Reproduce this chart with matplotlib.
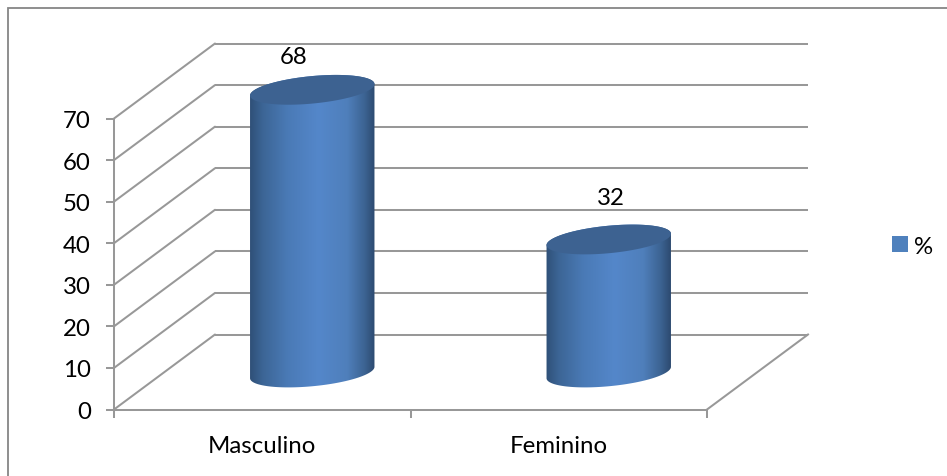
import numpy as np
import matplotlib
matplotlib.use("Agg")
import matplotlib.pyplot as plt
from matplotlib.colors import LinearSegmentedColormap
from matplotlib.patches import Patch, PathPatch, Rectangle
from matplotlib.path import Path
from matplotlib.transforms import Affine2D

plt.rcParams['font.family'] = ['Lato', 'DejaVu Sans']

categories = ["Masculino", "Feminino"]
values = [68, 32]
series_name = "%"
y_ticks = [0, 10, 20, 30, 40, 50, 60, 70]

W, H = 947, 477
GRAY = "#989898"
LW = 1.45
FS = 17.3
DEPTH_X, DEPTH_Y = 101, 75          # depth of the 3-D box, px
BAR_DX, BAR_DY = 50, 37             # bar centre within the depth, px
A, B, TILT = 62.5, 13.7, np.radians(5.5)  # ellipse of the cylinder, px
LABEL_OFFSETS = [(-19, 33), (2, 42)]      # label position from bar top, px

fig = plt.figure(figsize=(W / 100, H / 100), dpi=100, facecolor="white")
ax = fig.add_axes([114 / W, 1 - 410.5 / H, (707 - 114) / W, (410.5 - 119.5) / H])
ax.set_xlim(0, 2)
ax.set_ylim(0, 70)
ax.patch.set_visible(False)

# chart frame
fig.add_artist(Rectangle((7.5 / W, -0.1), 1.1, 1.1 - 8.5 / H,
                         transform=fig.transFigure, fill=False,
                         edgecolor="#868686", linewidth=1.3))

# axes
for s in ("top", "right"):
    ax.spines[s].set_visible(False)
for s in ("left", "bottom"):
    ax.spines[s].set_color(GRAY)
    ax.spines[s].set_linewidth(LW)
ax.set_yticks(y_ticks)
ax.set_xticks([0, 1, 2])
ax.set_xticks([0.5, 1.5], minor=True)
ax.set_xticklabels([])
ax.set_xticklabels(categories, minor=True, fontsize=FS, color="black")
ax.tick_params(axis="y", length=5.8, width=LW, color=GRAY, labelsize=FS,
               pad=11, labelcolor="black")
for lab in ax.get_yticklabels():
    lab.set_verticalalignment("center_baseline")
ax.tick_params(axis="x", which="major", length=5.8, width=LW, color=GRAY)
ax.tick_params(axis="x", which="minor", length=0, pad=18.5)

# 3-D walls and floor
depth = ax.transData + Affine2D().translate(DEPTH_X, DEPTH_Y)
for v in y_ticks:
    p0 = ax.transData.transform((0, v))
    xs = [p0[0], p0[0] + DEPTH_X]
    ys = [p0[1], p0[1] + DEPTH_Y]
    ax.plot(xs, ys, color=GRAY, lw=LW, transform=None, clip_on=False,
            solid_capstyle="round", zorder=1)
    ax.plot([0, 2], [v, v], color=GRAY, lw=LW, transform=depth, clip_on=False,
            solid_capstyle="butt", zorder=1)
p1 = ax.transData.transform((2, 0))
ax.plot([p1[0], p1[0] + DEPTH_X], [p1[1], p1[1] + DEPTH_Y], color=GRAY, lw=LW,
        transform=None, clip_on=False, zorder=1)

cmap = LinearSegmentedColormap.from_list("cyl", [
    (0.00, "#2F5078"), (0.10, "#3C6595"), (0.30, "#4A7AB6"),
    (0.55, "#5487CA"), (0.78, "#4F7FBB"), (0.92, "#3C6392"), (1.00, "#2D4A70")])


def ellipse_pts(cx, cy, t):
    ex, ey = A * np.cos(t), B * np.sin(t)
    return (cx + ex * np.cos(TILT) - ey * np.sin(TILT),
            cy + ex * np.sin(TILT) + ey * np.cos(TILT))


grad = np.linspace(0, 1, 256)[None, :]
for i, (name, v) in enumerate(zip(categories, values)):
    base = ax.transData.transform((i + 0.5, 0)) + (BAR_DX, BAR_DY)
    top = ax.transData.transform((i + 0.5, v)) + (BAR_DX, BAR_DY)

    t_up = np.linspace(0, np.pi, 80)
    t_low = np.linspace(np.pi, 2 * np.pi, 80)
    ux, uy = ellipse_pts(top[0], top[1], t_up)
    lx, ly = ellipse_pts(base[0], base[1], t_low)
    verts = np.r_[np.c_[ux, uy], np.c_[lx, ly], [[ux[0], uy[0]]]]
    body = Path(verts, closed=True)
    clip = PathPatch(body, transform=None, facecolor="none", edgecolor="none",
                     clip_on=False)
    ax.add_patch(clip)

    im = ax.imshow(grad, cmap=cmap, aspect="auto", zorder=3,
                   extent=(base[0] - A, base[0] + A, base[1] - 40, top[1] + 40),
                   transform=Affine2D())
    im.set_clip_box(fig.bbox)
    im.set_clip_path(clip)

    tt = np.linspace(0, 2 * np.pi, 160)
    ex, ey = ellipse_pts(top[0], top[1], tt)
    ax.add_patch(PathPatch(Path(np.c_[ex, ey], closed=False), transform=None,
                           facecolor="#3D6291", edgecolor="none", zorder=4,
                           clip_on=False))

    ax.annotate(str(v), xy=(i + 0.5, v), xycoords="data",
                xytext=(BAR_DX + LABEL_OFFSETS[i][0], BAR_DY + LABEL_OFFSETS[i][1]),
                textcoords="offset pixels", ha="center", va="center",
                fontsize=FS, color="black", annotation_clip=False, zorder=5)

ax.set_xlim(0, 2)
ax.set_ylim(0, 70)

fig.legend(handles=[Patch(facecolor="#4F81BD", edgecolor="none", label=series_name)],
           loc="center left", bbox_to_anchor=(885 / W, 1 - 247 / H), frameon=False,
           fontsize=FS, handlelength=0.65, handleheight=0.65, handletextpad=0.25,
           borderpad=0.3, borderaxespad=0)

fig.savefig("out.png", dpi=100, facecolor="white")
